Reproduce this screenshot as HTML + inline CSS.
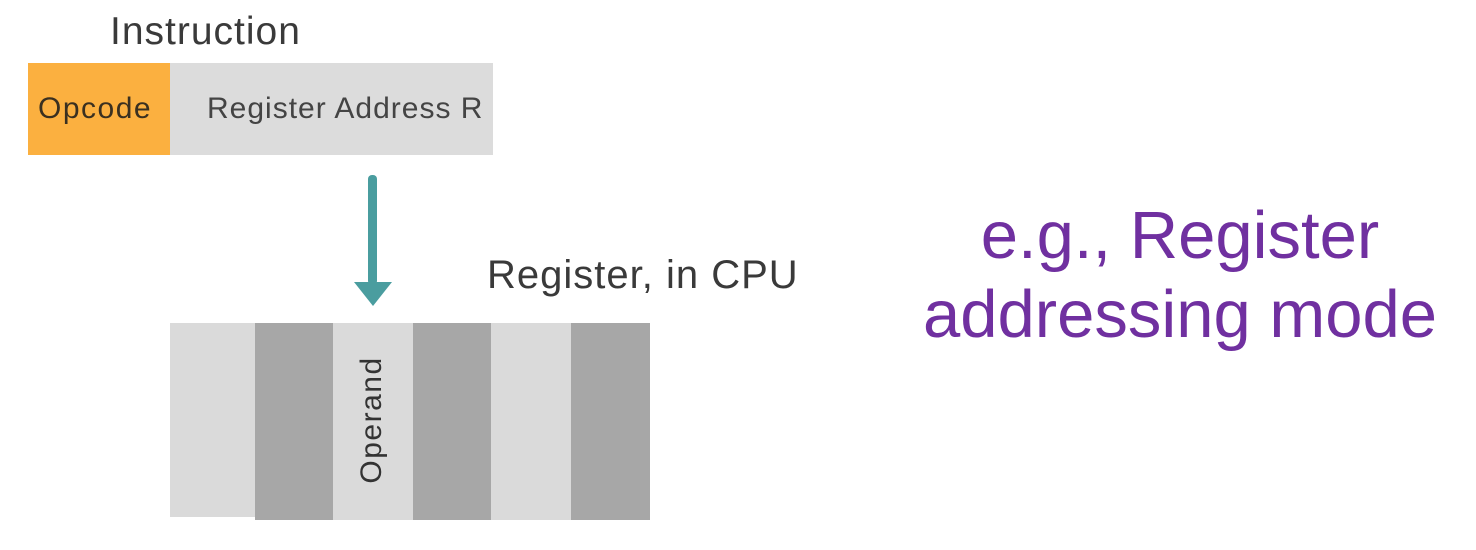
<!DOCTYPE html>
<html><head><style>
body{margin:0;width:1476px;height:550px;background:#fff;position:relative;overflow:hidden;font-family:"Liberation Sans",sans-serif}
div{position:absolute}
.t{color:#333;white-space:nowrap}
</style></head><body>
<div class="t" style="left:110px;top:11px;font-size:39px;line-height:42px;letter-spacing:1px;color:#3a3a3a">Instruction</div>
<div style="left:28px;top:63px;width:142px;height:92px;background:#fbb040"></div>
<div style="left:170px;top:63px;width:323px;height:92px;background:#dcdcdc"></div>
<div class="t" style="left:38px;top:92px;font-size:30px;line-height:34px;letter-spacing:1.5px;color:#3a3020">Opcode</div>
<div class="t" style="left:207px;top:92px;font-size:30px;line-height:34px;letter-spacing:1px;color:#444">Register Address R</div>
<div style="left:368px;top:175px;width:9px;height:110px;background:#4a9d9f;border-radius:4px"></div>
<div style="left:354px;top:282px;width:0;height:0;border-left:19px solid transparent;border-right:19px solid transparent;border-top:24px solid #4a9d9f"></div>
<div class="t" style="left:487px;top:253px;font-size:40px;line-height:44px;letter-spacing:1px;color:#3a3a3a">Register, in CPU</div>
<div style="left:170px;top:323px;width:85px;height:194px;background:#dadada"></div>
<div style="left:255px;top:323px;width:78px;height:197px;background:#a7a7a7"></div>
<div style="left:333px;top:323px;width:80px;height:197px;background:#dadada"></div>
<div style="left:413px;top:323px;width:78px;height:197px;background:#a7a7a7"></div>
<div style="left:491px;top:323px;width:80px;height:197px;background:#dadada"></div>
<div style="left:571px;top:323px;width:79px;height:197px;background:#a7a7a7"></div>
<div class="t" style="left:372px;top:420px;font-size:30px;line-height:32px;letter-spacing:1.5px;color:#333;transform:translate(-50%,-50%) rotate(-90deg)">Operand</div>
<div style="left:880px;top:196px;width:600px;text-align:center;font-size:67px;line-height:79px;color:#7030a0">e.g., Register<br>addressing mode</div>
</body></html>
